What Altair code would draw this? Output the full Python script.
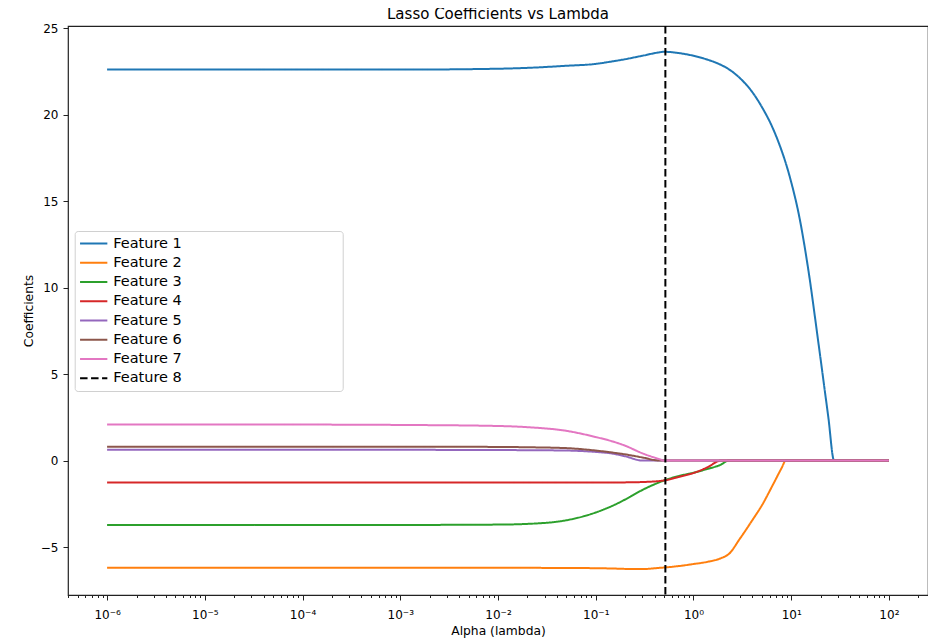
import altair as alt
import pandas as pd

features = ["Feature 1", "Feature 2", "Feature 3", "Feature 4",
            "Feature 5", "Feature 6", "Feature 7", "Feature 8"]
colors = ["#1f77b4", "#ff7f0e", "#2ca02c", "#d62728",
          "#9467bd", "#8c564b", "#e377c2", "#000000"]

alphas = [1e-6, 1e-5, 1e-4, 1e-3, 1e-2, 0.02, 0.05, 0.1, 0.15, 0.2, 0.3, 0.45,
          0.5, 0.7, 1.0, 1.4, 1.9, 2.3, 3.0, 4.0, 5.0, 6.5, 8.0, 8.8, 10, 12,
          15, 19, 24, 27.5, 40, 100]

coef_f1 = [22.6, 22.6, 22.6, 22.6, 22.65, 22.7, 22.82, 22.93, 23.08, 23.2, 23.4, 23.6,
           23.63, 23.56, 23.4, 23.17, 22.88, 22.62, 22.1, 21.3, 20.45, 19.2, 17.9, 17.2,
           16.1, 14.2, 11.0, 6.8, 2.5, 0.0, 0.0, 0.0]
coef_f2 = [-6.2, -6.2, -6.2, -6.2, -6.2, -6.2, -6.21, -6.22, -6.24, -6.26, -6.27, -6.2,
           -6.18, -6.1, -5.98, -5.85, -5.65, -5.4, -4.5, -3.45, -2.6, -1.4, -0.42, 0.0,
           0.0, 0.0, 0.0, 0.0, 0.0, 0.0, 0.0, 0.0]
coef_f3 = [-3.72, -3.72, -3.72, -3.72, -3.7, -3.66, -3.45, -3.0, -2.6, -2.25, -1.7, -1.25,
           -1.15, -0.9, -0.7, -0.48, -0.24, 0.0, 0.0, 0.0, 0.0, 0.0, 0.0, 0.0,
           0.0, 0.0, 0.0, 0.0, 0.0, 0.0, 0.0, 0.0]
coef_f4 = [-1.27, -1.27, -1.27, -1.27, -1.27, -1.27, -1.27, -1.27, -1.27, -1.26, -1.24, -1.18,
           -1.15, -0.95, -0.72, -0.38, 0.0, 0.0, 0.0, 0.0, 0.0, 0.0, 0.0, 0.0,
           0.0, 0.0, 0.0, 0.0, 0.0, 0.0, 0.0, 0.0]
coef_f5 = [0.62, 0.62, 0.62, 0.62, 0.61, 0.6, 0.58, 0.5, 0.4, 0.25, 0.0, 0.0,
           0.0, 0.0, 0.0, 0.0, 0.0, 0.0, 0.0, 0.0, 0.0, 0.0, 0.0, 0.0,
           0.0, 0.0, 0.0, 0.0, 0.0, 0.0, 0.0, 0.0]
coef_f6 = [0.8, 0.8, 0.8, 0.8, 0.79, 0.77, 0.72, 0.58, 0.46, 0.36, 0.18, 0.0,
           0.0, 0.0, 0.0, 0.0, 0.0, 0.0, 0.0, 0.0, 0.0, 0.0, 0.0, 0.0,
           0.0, 0.0, 0.0, 0.0, 0.0, 0.0, 0.0, 0.0]
coef_f7 = [2.08, 2.08, 2.08, 2.06, 2.0, 1.93, 1.72, 1.36, 1.1, 0.86, 0.42, 0.08,
           0.0, 0.0, 0.0, 0.0, 0.0, 0.0, 0.0, 0.0, 0.0, 0.0, 0.0, 0.0,
           0.0, 0.0, 0.0, 0.0, 0.0, 0.0, 0.0, 0.0]

best_alpha = [0.516]

major_ticks = [1e-6, 1e-5, 1e-4, 1e-3, 1e-2, 1e-1, 1e0, 1e1, 1e2]
major_labels = ["10⁻⁶", "10⁻⁵", "10⁻⁴", "10⁻³", "10⁻²", "10⁻¹", "10⁰", "10¹", "10²"]
y_ticks = [-5, 0, 5, 10, 15, 20, 25]

minor_ticks = [m * 10.0 ** e for e in range(-7, 3) for m in range(2, 10)
               if 4.0e-7 <= m * 10.0 ** e <= 251]

coefs = [coef_f1, coef_f2, coef_f3, coef_f4, coef_f5, coef_f6, coef_f7]
rows = []
for name, vals in zip(features[:7], coefs):
    for a, v in zip(alphas, vals):
        rows.append({"alpha": a, "coef": v, "feature": name})
df = pd.DataFrame(rows)
rule_df = pd.DataFrame({"alpha": best_alpha, "feature": [features[7]]})

FONT = "DejaVu Sans"
is_major = "abs(log(datum.value)/LN10 - round(log(datum.value)/LN10)) < 0.001"
label_arr = "[" + ",".join("'" + s + "'" for s in major_labels) + "]"

x_scale = alt.Scale(type="log", domain=[10 ** -6.4, 10 ** 2.4], nice=False)
y_scale = alt.Scale(domain=[-7.77, 25.12], nice=False, zero=False)

x_axis = alt.Axis(
    values=major_ticks + minor_ticks,
    labelExpr=f"{is_major} ? {label_arr}[round(log(datum.value)/LN10) + 6] : ''",
    tickSize={"condition": {"test": is_major, "value": 5}, "value": 2.5},
    labelOverlap=False, labelFlush=False, grid=False, domain=False,
    labelFontSize=12, labelPadding=9, titlePadding=4, titleFontSize=12.3,
)
y_axis = alt.Axis(values=y_ticks, grid=False, domain=False, tickSize=5,
                  labelFontSize=12, labelPadding=5, titlePadding=5,
                  titleFontSize=12.3)

pad = "\u00a0" * 34 + "\u200b"
legend = alt.Legend(title=None, labelExpr=f"datum.label + '{pad}'")

color_enc = alt.Color("feature:N", scale=alt.Scale(domain=features, range=colors),
                      legend=legend)
dash_enc = alt.StrokeDash("feature:N",
                          scale=alt.Scale(domain=features,
                                          range=[[1, 0]] * 7 + [[7.5, 3.5]]),
                          legend=legend)

lines = alt.Chart(df).mark_line(strokeWidth=2, interpolate="monotone").encode(
    x=alt.X("alpha:Q", scale=x_scale, axis=x_axis, title="Alpha (lambda)"),
    y=alt.Y("coef:Q", scale=y_scale, axis=y_axis, title="Coefficients"),
    color=color_enc,
    strokeDash=dash_enc,
)

rule = alt.Chart(rule_df).mark_rule(strokeWidth=2).encode(
    x=alt.X("alpha:Q", scale=x_scale),
    color=color_enc,
    strokeDash=dash_enc,
)

chart = alt.layer(lines, rule).properties(
    width=860, height=569,
    title=alt.TitleParams("Lasso Coefficients vs Lambda", fontSize=15,
                          font=FONT, fontWeight="normal", offset=5, dy=4.5,
                          color="#000"),
    autosize=alt.AutoSizeParams(type="none"),
    padding={"left": 60, "top": 18, "right": 0, "bottom": 47},
).configure_view(
    stroke="#222222", strokeWidth=1.2
).configure_axis(
    labelFont=FONT, titleFont=FONT, labelColor="#000", titleColor="#000",
    tickColor="#222", titleFontWeight="normal",
).configure_legend(
    orient="none", legendX=6.7, legendY=205, padding=4,
    strokeColor="#d0d0d0", fillColor="white", cornerRadius=3,
    labelFont=FONT, labelFontSize=14.5, labelColor="#000", labelLimit=400,
    symbolType="stroke", symbolSize=745, symbolStrokeWidth=2,
    clipHeight=17, rowPadding=2.25, labelOffset=4.5,
)

chart.save("out.html", embed_options={"renderer": "svg", "actions": False})
